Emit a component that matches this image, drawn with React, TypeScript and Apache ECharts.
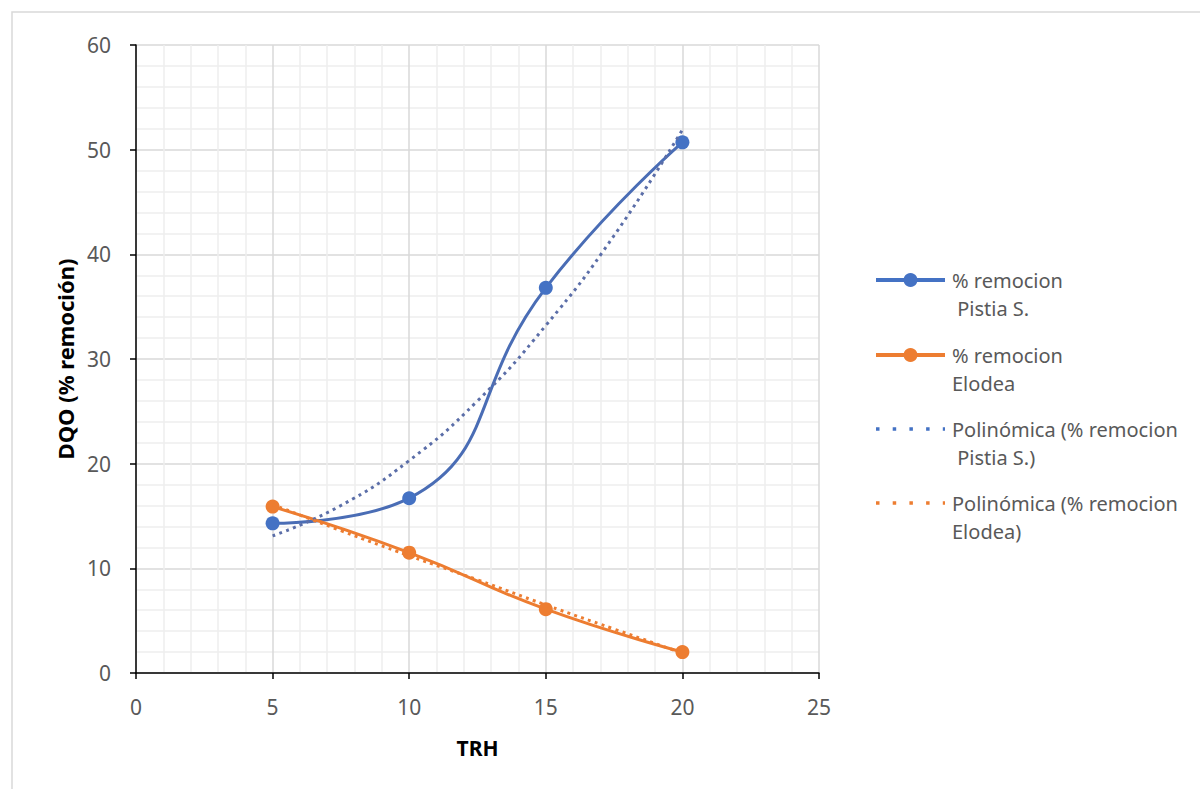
import React, { useEffect, useRef } from "react";
import * as echarts from "echarts";

const xValues = [5, 10, 15, 20];
const pistia = [14.3, 16.7, 36.8, 50.7];
const elodea = [15.9, 11.5, 6.1, 2.0];
const trendX = [5, 7.5, 10, 12.5, 15, 17.5, 20];
const pistiaTrend = [13.1, 16.0, 20.3, 26.0, 33.2, 41.8, 51.9];
const elodeaTrend = [16.1, 13.6, 11.2, 8.9, 6.5, 4.2, 1.9];
const seriesNames = [
  "% remocion\n Pistia S.",
  "% remocion\nElodea",
  "Polinómica (% remocion\n Pistia S.)",
  "Polinómica (% remocion\nElodea)",
];

const BLUE = "#4472C4";
const ORANGE = "#ED7D31";
const FONT = "Noto Sans";

export default function App() {
  const ref = useRef<HTMLDivElement>(null);
  useEffect(() => {
    if (!ref.current) return;
    const chart = echarts.init(ref.current, null, { renderer: "svg" });
    const pair = (xs: number[], ys: number[]) => xs.map((x, i) => [x, ys[i]]);

    // custom legend (layout only)
    const rows = [280, 355, 429, 503];
    const legendColors = [BLUE, ORANGE, BLUE, ORANGE];
    const dotted = [false, false, true, true];
    const legendEls: any[] = [];
    seriesNames.forEach((n, i) => {
      const y = rows[i];
      legendEls.push({
        type: "line",
        silent: true,
        shape: { x1: 876, y1: y, x2: 945, y2: y },
        style: {
          stroke: legendColors[i],
          lineWidth: dotted[i] ? 3.5 : 4,
          lineDash: dotted[i] ? [3.5, 13.2] : null,
        },
      });
      if (!dotted[i]) {
        legendEls.push({
          type: "circle",
          silent: true,
          shape: { cx: 910.5, cy: y, r: 7 },
          style: { fill: legendColors[i] },
        });
      }
      legendEls.push({
        type: "text",
        silent: true,
        x: 952,
        y: y - 14,
        style: {
          text: n,
          font: `20px "${FONT}"`,
          fill: "#595959",
          lineHeight: 28,
          verticalAlign: "top",
          align: "left",
        },
      });
    });

    chart.setOption({
      animation: false,
      backgroundColor: "#ffffff",
      graphic: [
        {
          type: "rect",
          z: -10,
          silent: true,
          shape: { x: 12, y: 12, width: 1250, height: 900 },
          style: { fill: "none", stroke: "#d9d9d9", lineWidth: 1.5 },
        },
        ...legendEls,
      ],
      grid: { left: 136, right: 381, top: 45, bottom: 116, containLabel: false },
      xAxis: {
        type: "value",
        min: 0,
        max: 25,
        interval: 5,
        name: "TRH",
        nameLocation: "middle",
        nameGap: 64,
        nameTextStyle: { fontFamily: FONT, fontSize: 21, fontWeight: "bold", color: "#000" },
        axisLine: { show: true, lineStyle: { color: "#000", width: 1.5 } },
        axisTick: { show: true, length: 6, lineStyle: { color: "#000", width: 1.5 } },
        axisLabel: { fontFamily: FONT, fontSize: 21, color: "#595959", margin: 23 },
        splitLine: { show: true, lineStyle: { color: "#d9d9d9", width: 1.5 } },
        minorTick: { show: false, splitNumber: 5 },
        minorSplitLine: { show: true, lineStyle: { color: "#eeeeee", width: 1.5 } },
      },
      yAxis: {
        type: "value",
        min: 0,
        max: 60,
        interval: 10,
        name: "DQO (% remoción)",
        nameLocation: "middle",
        nameGap: 60,
        nameRotate: 90,
        nameTextStyle: { fontFamily: FONT, fontSize: 22, fontWeight: "bold", color: "#000" },
        axisLine: { show: true, lineStyle: { color: "#000", width: 1.5 } },
        axisTick: { show: true, length: 6, lineStyle: { color: "#000", width: 1.5 } },
        axisLabel: { fontFamily: FONT, fontSize: 21, color: "#595959", margin: 25 },
        splitLine: { show: true, lineStyle: { color: "#d9d9d9", width: 1.5 } },
        minorTick: { show: false, splitNumber: 5 },
        minorSplitLine: { show: true, lineStyle: { color: "#eeeeee", width: 1.5 } },
      },
      series: [
        {
          name: seriesNames[0],
          type: "line",
          data: pair(xValues, pistia),
          smooth: 0.5,
          symbol: "circle",
          symbolSize: 14,
          itemStyle: { color: BLUE },
          lineStyle: { color: "#4a6db5", width: 3 },
          z: 3,
        },
        {
          name: seriesNames[1],
          type: "line",
          data: pair(xValues, elodea),
          smooth: 0.5,
          symbol: "circle",
          symbolSize: 14,
          itemStyle: { color: ORANGE },
          lineStyle: { color: ORANGE, width: 3 },
          z: 3,
        },
        {
          name: seriesNames[2],
          type: "line",
          data: pair(trendX, pistiaTrend),
          smooth: true,
          symbol: "none",
          itemStyle: { color: BLUE },
          lineStyle: { color: "#5b6ea8", width: 3, type: [3, 4.3] },
          z: 4,
        },
        {
          name: seriesNames[3],
          type: "line",
          data: pair(trendX, elodeaTrend),
          smooth: true,
          symbol: "none",
          itemStyle: { color: ORANGE },
          lineStyle: { color: ORANGE, width: 3, type: [3, 4.3] },
          z: 4,
        },
      ],
    });
    return () => chart.dispose();
  }, []);
  return (
    <div
      ref={ref}
      style={{ position: "absolute", left: 0, top: 0, width: 1200, height: 789 }}
    />
  );
}
